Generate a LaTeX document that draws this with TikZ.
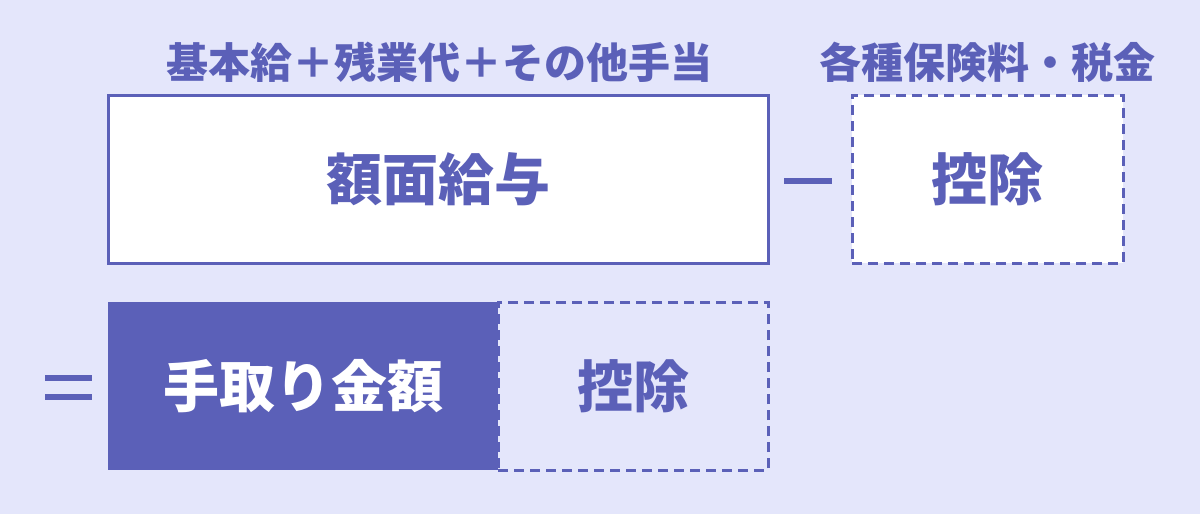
\documentclass[tikz,border=0pt]{standalone}
\usepackage{fontspec}
\setmainfont{Noto Sans CJK JP}
\definecolor{bgc}{RGB}{228,230,251}
\definecolor{mainc}{RGB}{91,96,184}
\tikzset{
  box/.style={draw=mainc, line width=3pt, fill=white, minimum width=#1, minimum height=168pt, inner sep=0pt},
  dbox/.style={draw=mainc, line width=3pt, dash pattern=on 10pt off 6pt, minimum width=#1, minimum height=168pt, inner sep=0pt},
  big/.style={font=\fontsize{56}{56}\selectfont\bfseries, text=mainc},
  small/.style={font=\fontsize{42}{42}\selectfont\bfseries, text=mainc},
  bar/.style={fill=mainc, draw=none}
}
\begin{document}
\begin{tikzpicture}[x=1pt,y=-1pt]
\fill[bgc] (0,0) rectangle (1200,514);
\useasboundingbox (0,0) rectangle (1200,514);
% top row
\node[small] (lab1) at (439,62) {基本給＋残業代＋その他手当};
\node[small] (lab2) at (987.5,62) {各種保険料・税金};
\node[box=660pt] (gross) at (438,179) {};
\node[big] (grosst) at (gross.center) {額面給与};
\node[dbox=271pt, fill=white] (ded1) at (987.5,179) {};
\node[big] (ded1t) at (ded1.center) {控除};
\fill[bar] (784,178) rectangle (832,184);
% bottom row
\fill[bar] (45,375) rectangle (92,381);
\fill[bar] (45,394) rectangle (92,400);
\node[fill=mainc, draw=none, minimum width=390pt, minimum height=168pt, inner sep=0pt] (net) at (303,386) {};
\node[big, text=white] (nett) at (net.center) {手取り金額};
\node[dbox=270pt] (ded2) at (633,386) {};
\node[big] (ded2t) at (ded2.center) {控除};
\end{tikzpicture}
\end{document}
